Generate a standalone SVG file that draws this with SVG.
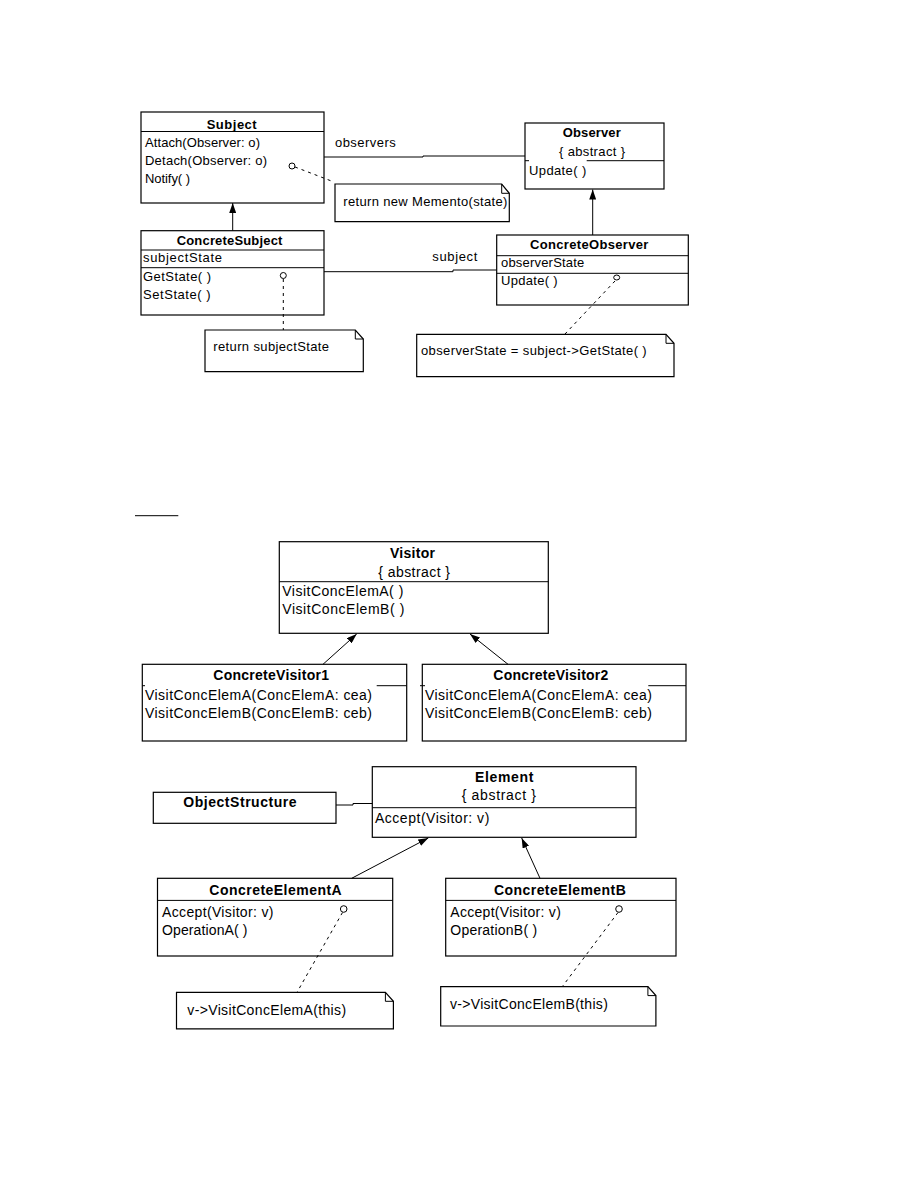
<svg xmlns="http://www.w3.org/2000/svg" width="918" height="1188" viewBox="0 0 918 1188">
<style>
.bx{fill:#fff;stroke:#000;stroke-width:1.2}
.ln{fill:none;stroke:#000;stroke-width:1}
.ds{fill:none;stroke:#000;stroke-width:1;stroke-dasharray:3 4}
.ci{fill:#fff;stroke:#000;stroke-width:1}
.t{font-family:"Liberation Sans",Arial,sans-serif;font-size:13px;fill:#000}
.b{font-family:"Liberation Sans",Arial,sans-serif;font-size:13px;font-weight:bold;fill:#000}
.t2{font-family:"Liberation Sans",Arial,sans-serif;font-size:14px;fill:#000}
.b2{font-family:"Liberation Sans",Arial,sans-serif;font-size:14px;font-weight:bold;fill:#000}
</style>
<defs>
<marker id="ah" viewBox="0 0 10 7" refX="10" refY="3.5" markerUnits="userSpaceOnUse" markerWidth="10" markerHeight="7" orient="auto">
<path d="M0,0 L10,3.5 L0,7 z" fill="#000"/>
</marker>
</defs>

<rect width="918" height="1188" fill="#fff"/>

<g id="subject">
<rect class="bx" x="141" y="112" width="183" height="91"/>
<line class="ln" x1="141" y1="131.5" x2="324" y2="131.5"/>
<text class="b" x="206.7" y="128.5" textLength="50" lengthAdjust="spacing">Subject</text>
<text class="t" x="145" y="147" textLength="115" lengthAdjust="spacing">Attach(Observer: o)</text>
<text class="t" x="145" y="165" textLength="122" lengthAdjust="spacing">Detach(Observer: o)</text>
<text class="t" x="145" y="183" textLength="45" lengthAdjust="spacing">Notify( )</text>
</g>

<g id="note-memento">
<path class="bx" d="M335,184 H501.7 L509.3,193.3 V221.7 H335 Z"/>
<polyline class="ln" points="501.7,184 501.7,193.3 509.3,193.3"/>
<text class="t" x="343.3" y="206" textLength="164" lengthAdjust="spacing">return new Memento(state)</text>
</g>

<g id="observer">
<rect class="bx" x="525" y="123" width="139" height="66"/>
<line class="ln" x1="525" y1="160.7" x2="529" y2="160.7"/>
<line class="ln" x1="586.7" y1="160.7" x2="664" y2="160.7"/>
<text class="b" x="562.7" y="137" textLength="58" lengthAdjust="spacing">Observer</text>
<text class="t" x="559" y="155.5" textLength="66" lengthAdjust="spacing">{ abstract }</text>
<text class="t" x="529" y="174.5" textLength="57.3" lengthAdjust="spacing">Update( )</text>
</g>

<g id="concrete-subject">
<rect class="bx" x="141" y="230.7" width="183" height="84.3"/>
<line class="ln" x1="141" y1="250" x2="324" y2="250"/>
<line class="ln" x1="141" y1="267.7" x2="324" y2="267.7"/>
<text class="b" x="176.7" y="245" textLength="105.7" lengthAdjust="spacing">ConcreteSubject</text>
<text class="t" x="143" y="262" textLength="79" lengthAdjust="spacing">subjectState</text>
<text class="t" x="143" y="280.5" textLength="68" lengthAdjust="spacing">GetState( )</text>
<text class="t" x="143" y="298.5" textLength="67.7" lengthAdjust="spacing">SetState( )</text>
</g>

<g id="note-subjectstate">
<path class="bx" d="M205,330 H355.3 L363.3,339 V371.7 H205 Z"/>
<polyline class="ln" points="355.3,330 355.3,339 363.3,339"/>
<text class="t" x="213.3" y="350.5" textLength="115.7" lengthAdjust="spacing">return subjectState</text>
</g>

<g id="concrete-observer">
<rect class="bx" x="496.7" y="235" width="191.6" height="70"/>
<line class="ln" x1="496.7" y1="255.7" x2="688.3" y2="255.7"/>
<line class="ln" x1="496.7" y1="273.3" x2="688.3" y2="273.3"/>
<text class="b" x="530" y="249" textLength="118.3" lengthAdjust="spacing">ConcreteObserver</text>
<text class="t" x="501" y="266.5" textLength="83.3" lengthAdjust="spacing">observerState</text>
<text class="t" x="501" y="285" textLength="56.7" lengthAdjust="spacing">Update( )</text>
</g>

<g id="note-observerstate">
<path class="bx" d="M416.7,334.3 H666 L674,343.3 V376.7 H416.7 Z"/>
<polyline class="ln" points="666,334.3 666,343.3 674,343.3"/>
<text class="t" x="421" y="355" textLength="225.7" lengthAdjust="spacing">observerState = subject-&gt;GetState( )</text>
</g>

<g id="visitor">
<rect class="bx" x="279.3" y="541.7" width="269" height="91.6"/>
<line class="ln" x1="279.3" y1="581.7" x2="548.3" y2="581.7"/>
<text class="b2" x="390" y="558" textLength="45" lengthAdjust="spacing">Visitor</text>
<text class="t2" x="378.3" y="577" textLength="71.7" lengthAdjust="spacing">{ abstract }</text>
<text class="t2" x="282.3" y="595.5" textLength="121" lengthAdjust="spacing">VisitConcElemA( )</text>
<text class="t2" x="282.3" y="614" textLength="122" lengthAdjust="spacing">VisitConcElemB( )</text>
</g>

<g id="concrete-visitor1">
<rect class="bx" x="142.3" y="664.3" width="264.4" height="76.7"/>
<line class="ln" x1="142.3" y1="685.7" x2="145" y2="685.7"/>
<line class="ln" x1="376.7" y1="685.7" x2="406.7" y2="685.7"/>
<text class="b2" x="213.3" y="680" textLength="115.7" lengthAdjust="spacing">ConcreteVisitor1</text>
<text class="t2" x="145" y="699.5" textLength="227" lengthAdjust="spacing">VisitConcElemA(ConcElemA: cea)</text>
<text class="t2" x="145" y="718" textLength="227" lengthAdjust="spacing">VisitConcElemB(ConcElemB: ceb)</text>
</g>

<g id="concrete-visitor2">
<rect class="bx" x="422.3" y="664.3" width="263.7" height="76.7"/>
<line class="ln" x1="420" y1="685.7" x2="425" y2="685.7"/>
<line class="ln" x1="648.3" y1="685.7" x2="686" y2="685.7"/>
<text class="b2" x="493.3" y="680" textLength="115" lengthAdjust="spacing">ConcreteVisitor2</text>
<text class="t2" x="425" y="699.5" textLength="227" lengthAdjust="spacing">VisitConcElemA(ConcElemA: cea)</text>
<text class="t2" x="425" y="718" textLength="227" lengthAdjust="spacing">VisitConcElemB(ConcElemB: ceb)</text>
</g>

<g id="object-structure">
<rect class="bx" x="153.3" y="792.3" width="182.7" height="31"/>
<text class="b2" x="183.3" y="806.5" textLength="113.3" lengthAdjust="spacing">ObjectStructure</text>
</g>

<g id="element">
<rect class="bx" x="372.3" y="766.7" width="263.7" height="70.6"/>
<line class="ln" x1="372.3" y1="807.7" x2="636" y2="807.7"/>
<text class="b2" x="475" y="781.5" textLength="58.3" lengthAdjust="spacing">Element</text>
<text class="t2" x="461.7" y="799.5" textLength="74.3" lengthAdjust="spacing">{ abstract }</text>
<text class="t2" x="375" y="822.5" textLength="114.3" lengthAdjust="spacing">Accept(Visitor: v)</text>
</g>

<g id="concrete-element-a">
<rect class="bx" x="157.5" y="878.3" width="235.2" height="77.7"/>
<line class="ln" x1="157.5" y1="900.4" x2="392.7" y2="900.4"/>
<text class="b2" x="209.3" y="895" textLength="132.4" lengthAdjust="spacing">ConcreteElementA</text>
<text class="t2" x="162" y="916.5" textLength="111.5" lengthAdjust="spacing">Accept(Visitor: v)</text>
<text class="t2" x="162" y="935" textLength="85.5" lengthAdjust="spacing">OperationA( )</text>
</g>

<g id="concrete-element-b">
<rect class="bx" x="445.7" y="878.3" width="230.3" height="77.7"/>
<line class="ln" x1="445.7" y1="900.4" x2="676" y2="900.4"/>
<text class="b2" x="494" y="895" textLength="131.8" lengthAdjust="spacing">ConcreteElementB</text>
<text class="t2" x="450.3" y="916.5" textLength="110.5" lengthAdjust="spacing">Accept(Visitor: v)</text>
<text class="t2" x="450.3" y="935" textLength="86.8" lengthAdjust="spacing">OperationB( )</text>
</g>

<g id="note-a">
<path class="bx" d="M176.5,992.3 H385.4 L393.4,1001.3 V1028.8 H176.5 Z"/>
<polyline class="ln" points="385.4,992.3 385.4,1001.3 393.4,1001.3"/>
<text class="t2" x="187.3" y="1014.5" textLength="158.8" lengthAdjust="spacing">v-&gt;VisitConcElemA(this)</text>
</g>

<g id="note-b">
<path class="bx" d="M440.7,986.6 H647.9 L655.9,995.6 V1026 H440.7 Z"/>
<polyline class="ln" points="647.9,986.6 647.9,995.6 655.9,995.6"/>
<text class="t2" x="450" y="1008.5" textLength="157.8" lengthAdjust="spacing">v-&gt;VisitConcElemB(this)</text>
</g>

<g id="connectors">
<polyline class="ln" points="324,157 423,157 423,156 525,156"/>
<text class="t" x="335" y="146.5" textLength="60.7" lengthAdjust="spacing">observers</text>
<line class="ln" x1="232.7" y1="230.7" x2="232.7" y2="203" marker-end="url(#ah)"/>
<line class="ln" x1="592.7" y1="235" x2="592.7" y2="189.5" marker-end="url(#ah)"/>
<polyline class="ln" points="324,271.7 453,271.7 453,270 496.7,270"/>
<text class="t" x="432.3" y="261" textLength="45" lengthAdjust="spacing">subject</text>
<line class="ds" x1="295" y1="167" x2="334" y2="182"/>
<circle class="ci" cx="292" cy="166" r="3"/>
<line class="ds" x1="283.3" y1="279" x2="283.3" y2="330"/>
<circle class="ci" cx="283.3" cy="275.5" r="3"/>
<line class="ds" x1="615" y1="281" x2="565" y2="334"/>
<ellipse class="ci" cx="616.7" cy="277.5" rx="3" ry="2.5"/>
<line class="ln" x1="135" y1="515.7" x2="178.3" y2="515.7"/>
<line class="ln" x1="323" y1="664.3" x2="356.7" y2="634" marker-end="url(#ah)"/>
<line class="ln" x1="508" y1="664.3" x2="470" y2="634" marker-end="url(#ah)"/>
<polyline class="ln" points="336,805 353,805 353,803.5 372.3,803.5"/>
<line class="ln" x1="351.7" y1="878.3" x2="428.3" y2="838" marker-end="url(#ah)"/>
<line class="ln" x1="540" y1="878.3" x2="521.7" y2="838" marker-end="url(#ah)"/>
<line class="ds" x1="342.5" y1="912.5" x2="297" y2="992.3"/>
<circle class="ci" cx="343.7" cy="909" r="3.3"/>
<line class="ds" x1="618" y1="912.5" x2="562.3" y2="986.6"/>
<circle class="ci" cx="619" cy="909" r="3.3"/>
</g>
</svg>
